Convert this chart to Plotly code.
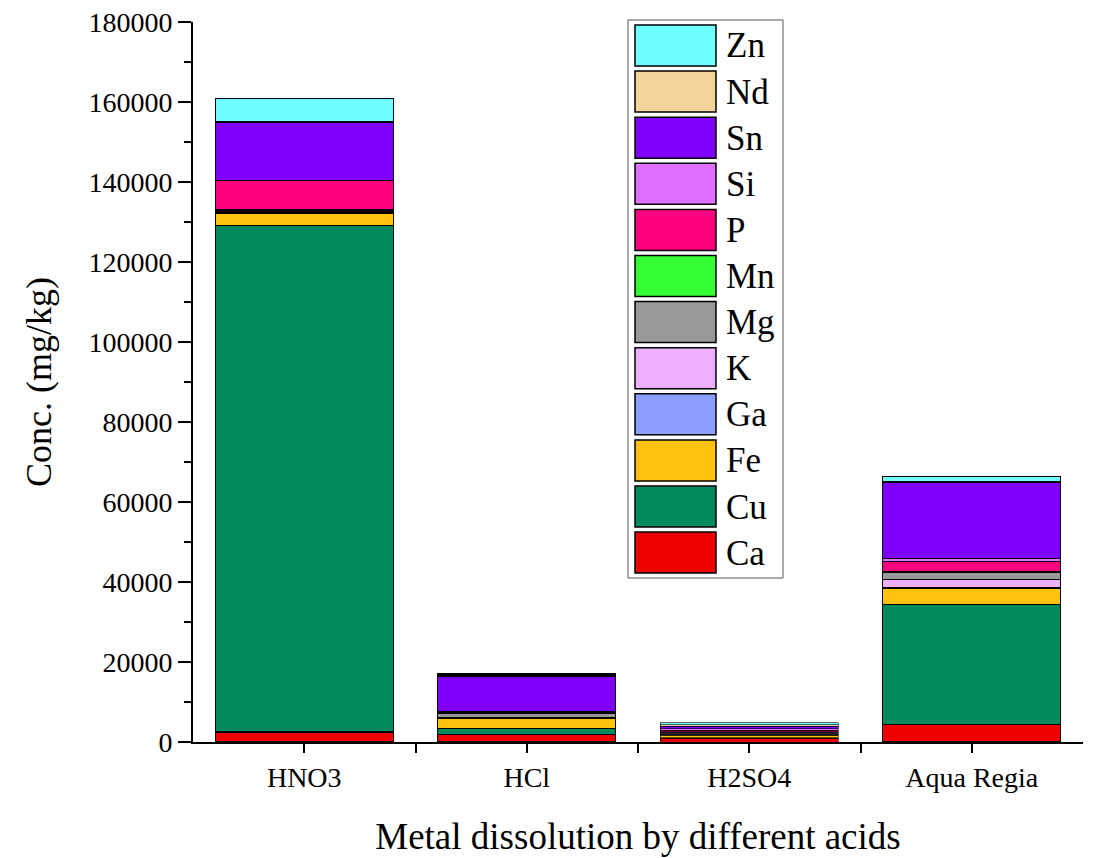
import plotly.graph_objects as go

categories = ["HNO3", "HCl", "H2SO4", "Aqua Regia"]
elements = ["Ca", "Cu", "Fe", "Ga", "K", "Mg", "Mn", "P", "Si", "Sn", "Nd", "Zn"]
colors = ["#EE0000", "#028A5E", "#FFC20E", "#8C9EFF", "#EDB0FF", "#999999",
          "#33FF33", "#FF0080", "#E070FF", "#7F00FF", "#F2D59A", "#70FFFF"]

Ca = [2500, 1800, 900, 4300]
Cu = [126700, 1500, 150, 30000]
Fe = [3000, 2500, 700, 4200]
Ga = [100, 100, 150, 200]
K = [200, 200, 300, 2000]
Mg = [500, 1000, 300, 1800]
Mn = [100, 100, 100, 200]
P = [7200, 300, 300, 2500]
Si = [100, 200, 400, 700]
Sn = [14600, 8800, 700, 19100]
Nd = [200, 300, 300, 200]
Zn = [5700, 400, 500, 1100]
series = [Ca, Cu, Fe, Ga, K, Mg, Mn, P, Si, Sn, Nd, Zn]

FONT = "Liberation Serif, Times New Roman, serif"
xs = list(range(len(categories)))

fig = go.Figure()
for name, vals, col in zip(elements, series, colors):
    fig.add_trace(go.Bar(x=xs, y=vals, name=name, width=0.8,
                         marker=dict(color=col, line=dict(color="black", width=[1.1, 1.1, 0.6, 1.1])),
                         showlegend=False))

# Plot area in screen pixels (page has an 8px body margin)
OFF = 8
L, R, T, B = 193, 1083, 22, 742
W, H = R - L, B - T
def px(x):
    return (x - L) / W
def py(y):
    return (B - y) / H

# Custom legend (large swatches)
shapes = [dict(type="rect", xref="paper", yref="paper",
               x0=px(628), x1=px(783), y0=py(578), y1=py(20),
               line=dict(color="#555555", width=1), fillcolor="white", layer="above")]
annotations = []
step = 46.1
for i, (name, col) in enumerate(zip(elements[::-1], colors[::-1])):
    top = 25 + i * step
    shapes.append(dict(type="rect", xref="paper", yref="paper",
                       x0=px(635), x1=px(716), y0=py(top + 41), y1=py(top),
                       line=dict(color="black", width=1.5), fillcolor=col, layer="above"))
    annotations.append(dict(xref="paper", yref="paper", x=px(724), y=py(top + 21),
                            text=name, showarrow=False, xanchor="left", yanchor="middle",
                            font=dict(family=FONT, size=35, color="black")))

fig.update_layout(
    barmode="stack",
    width=1094, height=858,
    margin=dict(l=L - OFF, r=1094 - (R - OFF), t=T - OFF, b=858 - (B - OFF)),
    plot_bgcolor="white", paper_bgcolor="white",
    font=dict(family=FONT, color="black"),
    shapes=shapes, annotations=annotations,
)
fig.update_xaxes(
    range=[-0.5, 3.5], tickvals=xs, ticktext=categories, automargin=False,
    showline=True, linecolor="black", linewidth=2,
    ticks="outside", ticklen=9, tickwidth=2, tickcolor="black",
    tickfont=dict(family=FONT, size=28),
    minor=dict(tickvals=[0.5, 1.5, 2.5], ticks="outside", ticklen=9, tickwidth=2, tickcolor="black"),
    showgrid=False, zeroline=False,
    title=dict(text="Metal dissolution by different acids", font=dict(family=FONT, size=37), standoff=32),
)
fig.update_yaxes(
    range=[0, 180000], dtick=20000, tickformat="d", automargin=False,
    showline=True, linecolor="black", linewidth=2,
    ticks="outside", ticklen=13, tickwidth=2, tickcolor="black",
    tickfont=dict(family=FONT, size=28), ticklabeloverflow="allow",
    minor=dict(dtick=10000, ticks="outside", ticklen=7, tickwidth=2, tickcolor="black"),
    showgrid=False, zeroline=False,
    title=dict(text="Conc. (mg/kg)", font=dict(family=FONT, size=36), standoff=26),
)

fig.write_html("out.html")
